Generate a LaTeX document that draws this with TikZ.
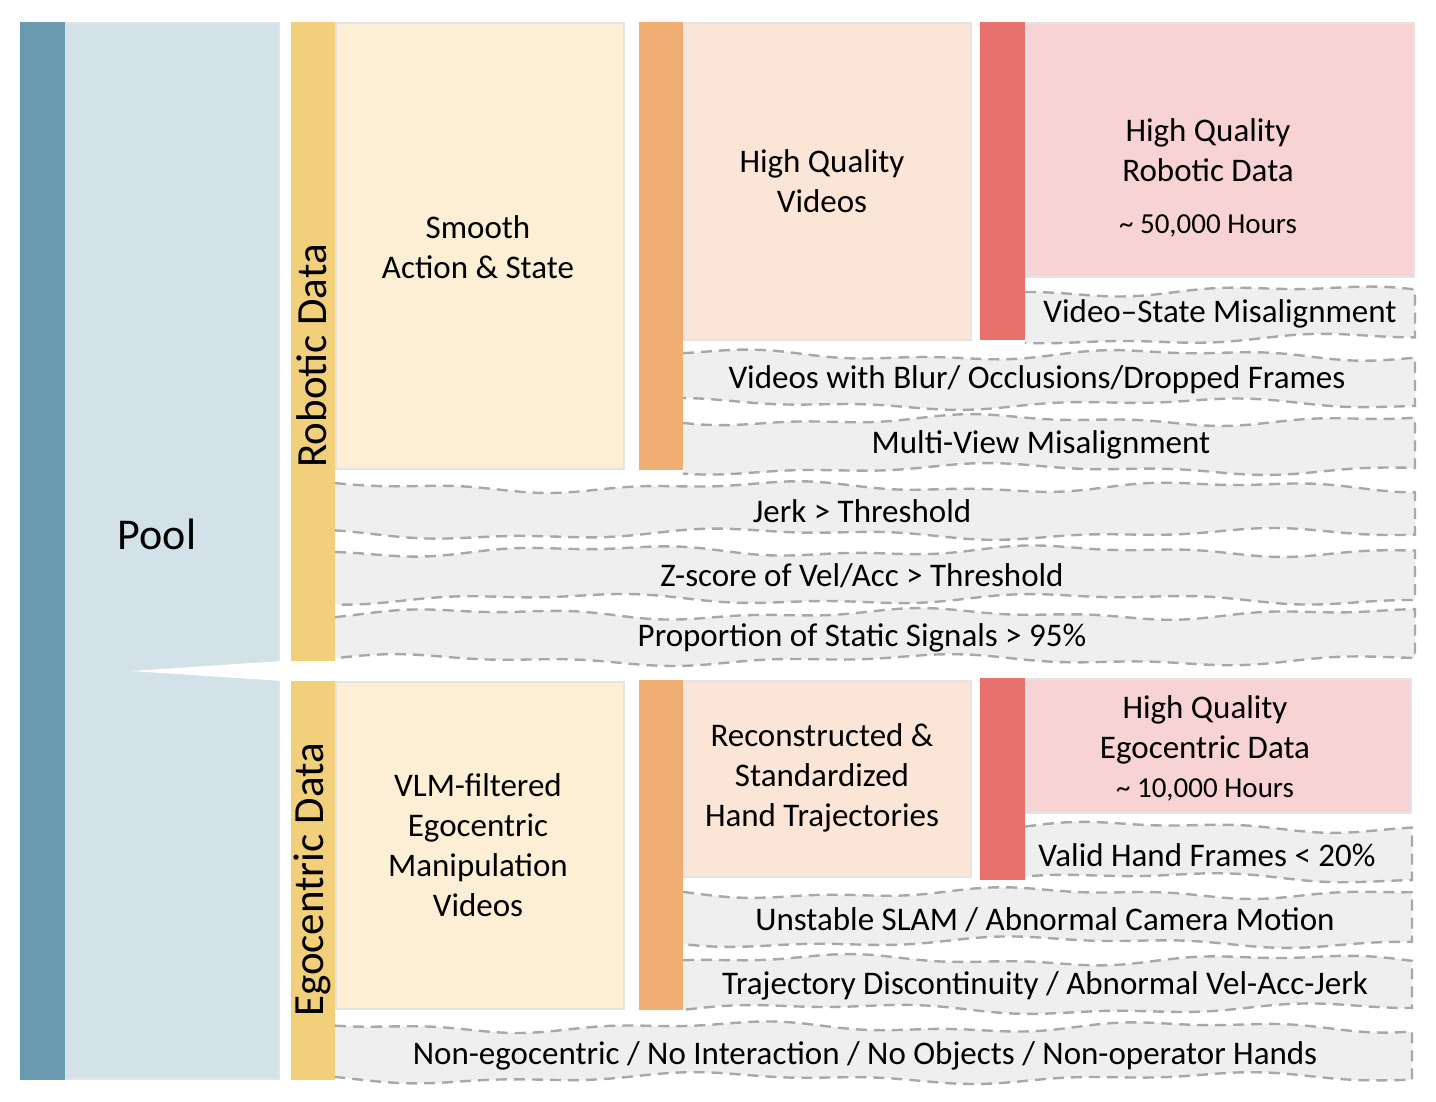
\documentclass[tikz,border=0pt]{standalone}
\usepackage{fontspec}
\setmainfont{Carlito}
\definecolor{dblue}{HTML}{6A9AB0}
\definecolor{lblue}{HTML}{D3E1E8}
\definecolor{bgray}{HTML}{E4E4E4}
\definecolor{dyellow}{HTML}{F2CF7A}
\definecolor{lyellow}{HTML}{FCEFD6}
\definecolor{dorange}{HTML}{F0AE73}
\definecolor{lorange}{HTML}{FAE5D6}
\definecolor{dred}{HTML}{E8716C}
\definecolor{lred}{HTML}{F7D4D3}
\definecolor{wfill}{HTML}{EFEFEF}
\definecolor{wdash}{HTML}{A8A8A8}
\tikzset{
  lightbox/.style={draw=bgray, line width=2.5pt},
  txt/.style={align=center, font=\fontsize{33}{40}\selectfont, inner sep=0pt},
  smalltxt/.style={align=center, font=\fontsize{29}{32}\selectfont, inner sep=0pt},
  sidetxt/.style={rotate=90, font=\fontsize{43}{46}\selectfont, inner sep=0pt},
  dashline/.style={draw=wdash, line width=2.4pt, dash pattern=on 11pt off 7pt},
}
\newcommand{\wbox}[5]{%
  \path[fill=wfill] plot[domain=#1:#2,samples=70,smooth] (\x,{#3+4*sin(0.8*\x+#5)+2*sin(2.1*\x+2*#5)})
     -- plot[domain=#2:#1,samples=70,smooth] (\x,{#4+4*sin(0.7*\x+#5+90)+2*sin(1.9*\x+#5)}) -- cycle;
  \draw[dashline] plot[domain=#1:#2,samples=70,smooth] (\x,{#3+4*sin(0.8*\x+#5)+2*sin(2.1*\x+2*#5)})
     -- plot[domain=#2:#1,samples=70,smooth] (\x,{#4+4*sin(0.7*\x+#5+90)+2*sin(1.9*\x+#5)});
}
\begin{document}
\begin{tikzpicture}[x=1pt,y=-1pt]
\useasboundingbox (0,0) rectangle (1436,1102);
% Pool
\filldraw[lightbox, fill=lblue] (65,23) rectangle (279,1079);
\fill[dblue] (20,22) rectangle (65,1080);
\fill[white] (131,671) -- (290,660.5) -- (290,681.5) -- cycle;
\node[font=\fontsize{44}{48}\selectfont, inner sep=0pt] (pool) at (157,534) {Pool};
% side bars
\fill[dyellow] (291,22) rectangle (335,661);
\fill[dyellow] (291,681) rectangle (335,1080);
\node[sidetxt] (robotic) at (312,356) {Robotic Data};
\node[sidetxt] (ego) at (312,880) {Egocentric Data};

% ---------- Robotic branch ----------
\wbox{335}{1415}{487}{534}{10}
\wbox{335}{1415}{551}{599}{140}
\wbox{335}{1415}{614}{660}{250}
\wbox{683}{1415}{355}{404}{60}
\wbox{683}{1415}{420}{469}{200}
\wbox{1025}{1415}{291}{339}{300}

\filldraw[lightbox, fill=lyellow] (336,23) rectangle (624,469);
\fill[dorange] (639,22) rectangle (683,470);
\filldraw[lightbox, fill=lorange] (684,23) rectangle (971,340);
\fill[dred] (980,22) rectangle (1025,340);
\filldraw[lightbox, fill=lred] (1026,23) rectangle (1414,277);

\node[txt] (smooth) at (478,247) {Smooth\\Action \& State};
\node[txt] (hqv) at (822,181) {High Quality\\Videos};
\node[txt] (hqr) at (1208,150) {High Quality\\Robotic Data};
\node[smalltxt] (hqrh) at (1208,226) {\textasciitilde{} 50,000 Hours};
\node[txt] (vsm) at (1220,314) {Video–State Misalignment};
\node[txt] (blur) at (1037,380) {Videos with Blur/ Occlusions/Dropped Frames};
\node[txt] (mvm) at (1041,445) {Multi-View Misalignment};
\node[txt] (jerk) at (862,511) {Jerk > Threshold};
\node[txt] (zscore) at (862,576) {Z-score of Vel/Acc > Threshold};
\node[txt] (static) at (862,638) {Proportion of Static Signals > 95\%};

% ---------- Egocentric branch ----------
\wbox{335}{1412}{1027}{1078}{40}
\wbox{683}{1412}{893}{942}{170}
\wbox{683}{1412}{960}{1009}{320}
\wbox{1025}{1412}{827}{878}{90}

\filldraw[lightbox, fill=lyellow] (336,682) rectangle (624,1009);
\fill[dorange] (639,680) rectangle (683,1010);
\filldraw[lightbox, fill=lorange] (684,681) rectangle (971,877);
\fill[dred] (980,678) rectangle (1025,880);
\filldraw[lightbox, fill=lred] (1026,679) rectangle (1411,813);

\node[txt] (vlm) at (478,845) {VLM-filtered\\Egocentric\\Manipulation\\Videos};
\node[txt] (recon) at (822,778) {Reconstructed \&\\Standardized\\Hand Trajectories};
\node[txt] (hqe) at (1205,730) {High Quality\\Egocentric Data};
\node[smalltxt] (hqeh) at (1205,790) {\textasciitilde{} 10,000 Hours};
\node[txt] (valid) at (1207,855) {Valid Hand Frames < 20\%};
\node[txt] (slam) at (1045,920) {Unstable SLAM / Abnormal Camera Motion};
\node[txt] (traj) at (1045,986) {Trajectory Discontinuity / Abnormal Vel-Acc-Jerk};
\node[txt] (nonego) at (865,1056) {Non-egocentric / No Interaction / No Objects / Non-operator Hands};
\end{tikzpicture}
\end{document}
